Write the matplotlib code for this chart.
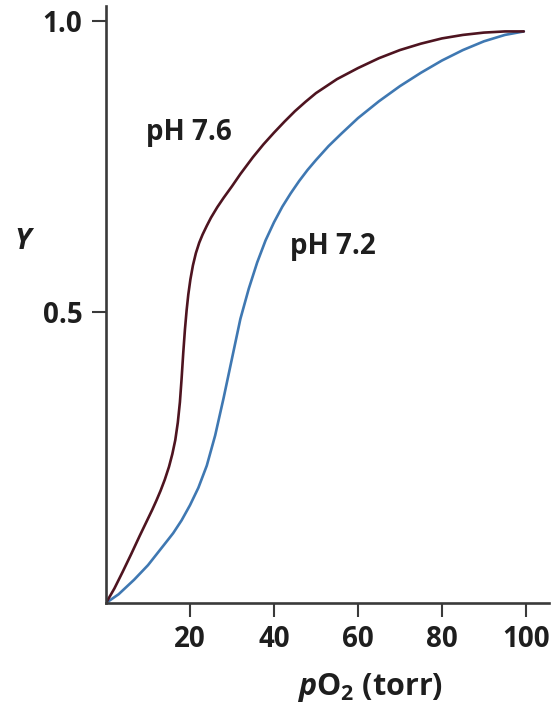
import matplotlib
matplotlib.use("Agg")
import matplotlib.pyplot as plt

# Oxygen saturation curves of hemoglobin at two pH values
po2_ph76 = [0, 2, 4, 6, 8, 10, 11, 12, 13, 14, 15, 15.8, 16.5, 17.1, 17.6, 18.0,
            18.4, 18.8, 19.2, 19.6, 20.1, 20.7, 21.4, 22.2, 23.0, 24.0, 25.0,
            26.5, 28.0, 30.0, 32.0, 35.0, 37.5, 40.0, 42.5, 45.0, 47.5, 50.0,
            55, 60, 65, 70, 75, 80, 85, 90, 95, 99.5]
y_ph76 = [0, 0.025, 0.054, 0.084, 0.115, 0.145, 0.160, 0.176, 0.193, 0.212,
          0.234, 0.256, 0.280, 0.310, 0.345, 0.385, 0.430, 0.470, 0.503, 0.530,
          0.556, 0.580, 0.601, 0.619, 0.633, 0.648, 0.662, 0.680, 0.696, 0.716,
          0.737, 0.766, 0.788, 0.808, 0.827, 0.845, 0.861, 0.876, 0.900, 0.919,
          0.936, 0.950, 0.961, 0.970, 0.976, 0.980, 0.982, 0.982]

po2_ph72 = [0, 3, 6.7, 10, 14.7, 16, 18, 20, 22, 24, 26, 28, 30, 32, 34, 36, 38,
            40, 42, 44, 46, 48, 50, 53, 56, 60, 65, 70, 75, 80, 85, 90, 95, 99.5]
y_ph72 = [0, 0.015, 0.040, 0.065, 0.108, 0.120, 0.142, 0.168, 0.198, 0.236,
          0.288, 0.352, 0.420, 0.488, 0.540, 0.585, 0.623, 0.654, 0.681, 0.704,
          0.725, 0.744, 0.761, 0.785, 0.806, 0.833, 0.862, 0.888, 0.911, 0.932,
          0.950, 0.965, 0.976, 0.982]

x_ticks = [20, 40, 60, 80, 100]
y_ticks = [0.5, 1.0]
y_ticklabels = ["0.5", "1.0"]

plt.rcParams["font.family"] = ["Open Sans", "DejaVu Sans"]
plt.rcParams["font.weight"] = "bold"
plt.rcParams["mathtext.fontset"] = "custom"
plt.rcParams["mathtext.rm"] = "Open Sans:bold"
plt.rcParams["mathtext.it"] = "Open Sans:italic:bold"
plt.rcParams["mathtext.bf"] = "Open Sans:bold"

W, H = 557, 706
fig = plt.figure(figsize=(W / 100, H / 100), dpi=100)
ax = fig.add_axes([106 / W, (H - 603) / H, (549 - 106) / W, 596.6 / H])

red = "#4e1420"
blue = "#3f78b2"
ax.plot(po2_ph72, y_ph72, color=blue, lw=1.9, solid_capstyle="round",
        solid_joinstyle="round")
ax.plot(po2_ph76, y_ph76, color=red, lw=1.9, solid_capstyle="round",
        solid_joinstyle="round")

ax.set_xlim(0, 105.5)
ax.set_ylim(0, 1.025)

for side in ("top", "right"):
    ax.spines[side].set_visible(False)
for side in ("left", "bottom"):
    ax.spines[side].set_color("#3a3a3a")
    ax.spines[side].set_linewidth(1.9)

ax.set_xticks(x_ticks)
ax.set_xticklabels([str(v) for v in x_ticks])
ax.set_yticks(y_ticks)
ax.set_yticklabels(y_ticklabels)
ax.tick_params(axis="both", direction="out", length=10, width=1.5,
               color="#3a3a3a", labelsize=20, labelcolor="#1e1e1e")
ax.tick_params(axis="x", pad=6)
ax.tick_params(axis="y", pad=7)

# axis titles
fig.text(370 / W, 1 - 687 / H, r"$\it{p}$O$_2$ (torr)", fontsize=22,
         fontweight="bold", ha="center", va="center", color="#1e1e1e")
fig.text(23 / W, 1 - 242 / H, "Y", fontsize=21, fontweight="bold",
         style="italic", ha="center", va="center", color="#1e1e1e")

# curve labels
ax.text(9.5, 0.809, "pH 7.6", fontsize=20, fontweight="bold",
        ha="left", va="center", color="#1e1e1e")
ax.text(43.9, 0.612, "pH 7.2", fontsize=20, fontweight="bold",
        ha="left", va="center", color="#1e1e1e")

fig.savefig("out.png", dpi=100)
